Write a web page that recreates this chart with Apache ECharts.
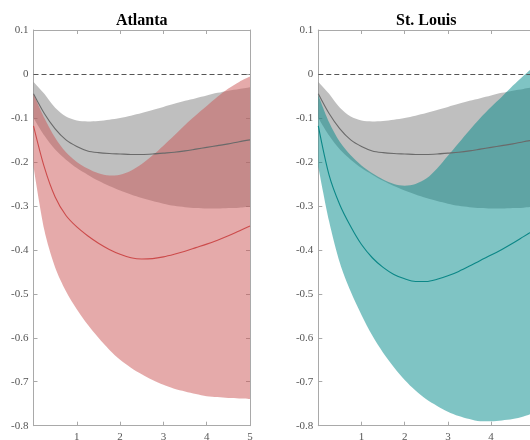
<!DOCTYPE html>
<html>
<head>
<meta charset="utf-8">
<script src="https://cdn.jsdelivr.net/npm/echarts@6/dist/echarts.min.js"></script>
<style>
html,body{margin:0;padding:0;background:#fff;}
#chart{width:530px;height:440px;}
</style>
</head>
<body>
<div id="chart"></div>
<script>
// Horizon (years)
const horizons = [0,0.25,0.5,0.75,1,1.25,1.5,1.75,2,2.25,2.5,2.75,3,3.25,3.5,3.75,4,4.25,4.5,4.75,5];

// Benchmark (grey) band, same in both panels
const baseUpper = [-0.018,-0.045,-0.077,-0.097,-0.106,-0.108,-0.107,-0.104,-0.100,-0.095,-0.089,-0.082,-0.075,-0.068,-0.061,-0.055,-0.049,-0.043,-0.038,-0.034,-0.030];
const baseMid   = [-0.045,-0.090,-0.125,-0.150,-0.165,-0.175,-0.179,-0.181,-0.182,-0.183,-0.183,-0.182,-0.180,-0.178,-0.175,-0.171,-0.167,-0.163,-0.159,-0.154,-0.150];
const baseLower = [-0.100,-0.140,-0.172,-0.195,-0.214,-0.229,-0.243,-0.255,-0.265,-0.274,-0.282,-0.289,-0.295,-0.300,-0.303,-0.305,-0.306,-0.306,-0.305,-0.304,-0.302];

// Atlanta (red)
const atlUpper = [-0.045,-0.100,-0.145,-0.178,-0.200,-0.215,-0.226,-0.231,-0.229,-0.220,-0.205,-0.185,-0.163,-0.140,-0.116,-0.094,-0.073,-0.052,-0.033,-0.018,-0.006];
const atlMid   = [-0.118,-0.212,-0.280,-0.322,-0.348,-0.368,-0.385,-0.399,-0.410,-0.418,-0.421,-0.420,-0.416,-0.410,-0.403,-0.395,-0.387,-0.378,-0.368,-0.357,-0.346];
const atlLower = [-0.210,-0.355,-0.440,-0.494,-0.535,-0.570,-0.600,-0.627,-0.650,-0.668,-0.683,-0.696,-0.707,-0.716,-0.722,-0.728,-0.733,-0.735,-0.737,-0.738,-0.739];

// St. Louis (teal)
const stlUpper = [-0.048,-0.110,-0.155,-0.185,-0.208,-0.226,-0.240,-0.250,-0.254,-0.250,-0.238,-0.215,-0.186,-0.157,-0.128,-0.100,-0.075,-0.052,-0.027,-0.004,0.018];
const stlMid   = [-0.118,-0.230,-0.298,-0.347,-0.388,-0.418,-0.440,-0.456,-0.466,-0.472,-0.472,-0.467,-0.459,-0.449,-0.437,-0.424,-0.412,-0.399,-0.385,-0.370,-0.355];
const stlLower = [-0.211,-0.335,-0.430,-0.495,-0.548,-0.595,-0.634,-0.667,-0.696,-0.720,-0.740,-0.755,-0.768,-0.778,-0.785,-0.790,-0.790,-0.788,-0.785,-0.779,-0.770];

const panelTitles = ['Atlanta', 'St. Louis'];

const FONT = "'Liberation Serif','Times New Roman',serif";
const AXIS_COLOR = '#a9a9a9';

const grids = [
  {left: 33.5, top: 30, width: 216.5, height: 395.7, outerBoundsMode: 'none', containLabel: false},
  {left: 318.3, top: 30, width: 216, height: 395.7, outerBoundsMode: 'none', containLabel: false}
];

const cats = horizons.map(String);
const isWhole = (idx) => Math.abs(horizons[idx] - Math.round(horizons[idx])) < 1e-9;

const xAxes = [], yAxes = [];
grids.forEach((g, gi) => {
  const common = {
    gridIndex: gi, type: 'category', data: cats, boundaryGap: false,
    axisLine: {show: true, onZero: false, lineStyle: {color: AXIS_COLOR, width: 1}},
    axisTick: {show: true, inside: true, length: 4, interval: (idx) => isWhole(idx), lineStyle: {color: AXIS_COLOR}},
    splitLine: {show: false}
  };
  xAxes.push(Object.assign({}, common, {
    position: 'bottom',
    axisLabel: {show: true, color: '#555', fontFamily: FONT, fontSize: 11, margin: 6,
      interval: (idx) => isWhole(idx) && horizons[idx] > 0}
  }));
  xAxes.push(Object.assign({}, common, {
    position: 'top', axisLabel: {show: false}
  }));
  const ycommon = {
    gridIndex: gi, type: 'value', min: -0.8, max: 0.1, interval: 0.1,
    axisLine: {show: true, onZero: false, lineStyle: {color: AXIS_COLOR, width: 1}},
    axisTick: {show: true, inside: true, length: 4, lineStyle: {color: AXIS_COLOR}},
    splitLine: {show: false}
  };
  yAxes.push(Object.assign({}, ycommon, {
    position: 'left',
    axisLabel: {show: true, color: '#555', fontFamily: FONT, fontSize: 11, margin: 5,
      formatter: v => {
        const r = Math.round(v * 10) / 10;
        return r === 0 ? '0' : r.toFixed(1);
      }}
  }));
  yAxes.push(Object.assign({}, ycommon, {
    position: 'right', axisLabel: {show: false}
  }));
});

function diff(up, lo) { return up.map((u, i) => u - lo[i]); }

function band(gi, lower, upper, color, id, withZero) {
  const lowerSeries = {
    type: 'line', xAxisIndex: gi * 2, yAxisIndex: gi * 2, stack: id, stackStrategy: 'all',
    data: lower.slice(), symbol: 'none', smooth: 0.3, silent: true,
    lineStyle: {opacity: 0}, z: 1
  };
  if (withZero) {
    lowerSeries.markLine = {
      silent: true, symbol: 'none', label: {show: false},
      lineStyle: {color: '#555', type: [5, 3], width: 1},
      data: [{yAxis: 0}]
    };
  }
  return [
    lowerSeries,
    {
      type: 'line', xAxisIndex: gi * 2, yAxisIndex: gi * 2, stack: id, stackStrategy: 'all',
      data: diff(upper, lower), symbol: 'none', smooth: 0.3, silent: true,
      lineStyle: {opacity: 0}, areaStyle: {color: color, opacity: 1}, z: 2
    }
  ];
}

function line(gi, arr, color, z) {
  return {
    type: 'line', xAxisIndex: gi * 2, yAxisIndex: gi * 2, data: arr.slice(),
    symbol: 'none', smooth: 0.3, silent: true,
    lineStyle: {color: color, width: 1.1}, z: z
  };
}

const series = [
  ...band(0, baseLower, baseUpper, 'rgba(128,128,128,0.5)', 'g0', true),
  ...band(0, atlLower, atlUpper, 'rgba(204,86,86,0.5)', 'r0', false),
  line(0, baseMid, '#6a6a6a', 3),
  line(0, atlMid, '#cc4b4b', 4),
  ...band(1, baseLower, baseUpper, 'rgba(128,128,128,0.5)', 'g1', true),
  ...band(1, stlLower, stlUpper, 'rgba(0,137,137,0.5)', 't1', false),
  line(1, baseMid, '#6a6a6a', 3),
  line(1, stlMid, '#0b8787', 4)
];

const chart = echarts.init(document.getElementById('chart'), null, {renderer: 'canvas'});
chart.setOption({
  animation: false,
  backgroundColor: '#fff',
  title: panelTitles.map((t, i) => ({
    text: t,
    left: grids[i].left + grids[i].width / 2,
    top: 13,
    padding: 0,
    textAlign: 'center',
    textStyle: {fontFamily: FONT, fontWeight: 'bold', fontSize: 16, color: '#000'}
  })),
  grid: grids,
  xAxis: xAxes,
  yAxis: yAxes,
  series: series
});
</script>
</body>
</html>
